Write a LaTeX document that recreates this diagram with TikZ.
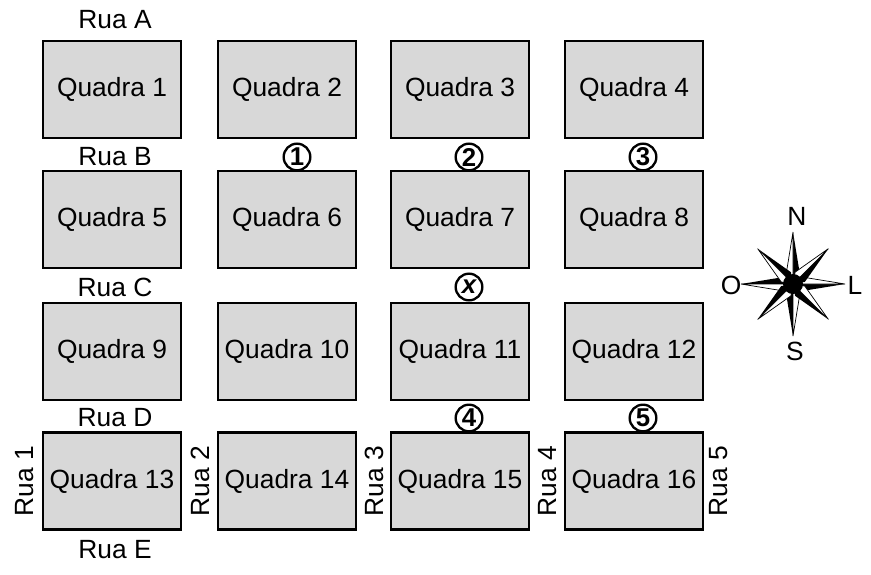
\documentclass[tikz,border=0pt]{standalone}
\usepackage{fontspec}
\setmainfont{Liberation Sans}
\begin{document}
\begin{tikzpicture}[x=0.03cm,y=-0.03cm]
  \tikzset{block/.style = {draw,line width=2.4pt,fill={rgb,255:red,216;green,216;blue,216},
      minimum width=4.14cm,minimum height=2.91cm,inner sep=0pt,font=\fontsize{22.5}{24}\selectfont}}
  \tikzset{street/.style = {font=\fontsize{22.5}{24}\selectfont,inner sep=0pt}}
  \tikzset{spot/.style = {circle,draw,line width=2pt,minimum size=0.8cm,inner sep=0pt,
      font=\fontsize{22}{22}\selectfont\bfseries}}
  \useasboundingbox (0,0) rectangle (871,574);
  % blocks
  \foreach \y [count=\r from 0] in {89.5,219.5,351.5,481}
    \foreach \x [count=\c from 1] in {112,287,460,634}
      {\pgfmathtruncatemacro{\n}{4*\r+\c}
       \node[block] (q\n) at (\x,\y) {Quadra \n};}
  % streets
  \foreach \y/\l in {20/A,157/B,287/C,418/D,550/E}
    \node[street] (rua\l) at (115,\y) {Rua \l};
  \foreach \x/\l in {25/1,200/2,374/3,548/4,719/5}
    \node[street,rotate=90] (rua\l) at (\x,481) {Rua \l};
  % spots
  \node[spot] (s1) at (297,157) {1};
  \node[spot] (s2) at (469,157) {2};
  \node[spot] (s3) at (643,157) {3};
  \node[spot] (sx) at (469,287) {\itshape x};
  \node[spot] (s4) at (469,418) {4};
  \node[spot] (s5) at (643,418) {5};
  % compass
  \begin{scope}[shift={(793,284)}]
    \foreach \a/\r in {0/52,90/52,180/52,270/52,45/50,135/50,225/50,315/50}
      {\fill[black] (0,0) -- (\a+35:12) -- (\a:\r) -- cycle;
       \filldraw[fill=white,draw=black,line width=0.6pt] (0,0) -- (\a-35:12) -- (\a:\r) -- cycle;}
    \fill (0,0) circle (0.3cm);
  \end{scope}
  \node[street] (north) at (797,216) {N};
  \node[street] (south) at (795,351) {S};
  \node[street] (east) at (855,285) {L};
  \node[street] (west) at (731,285) {O};
\end{tikzpicture}
\end{document}
